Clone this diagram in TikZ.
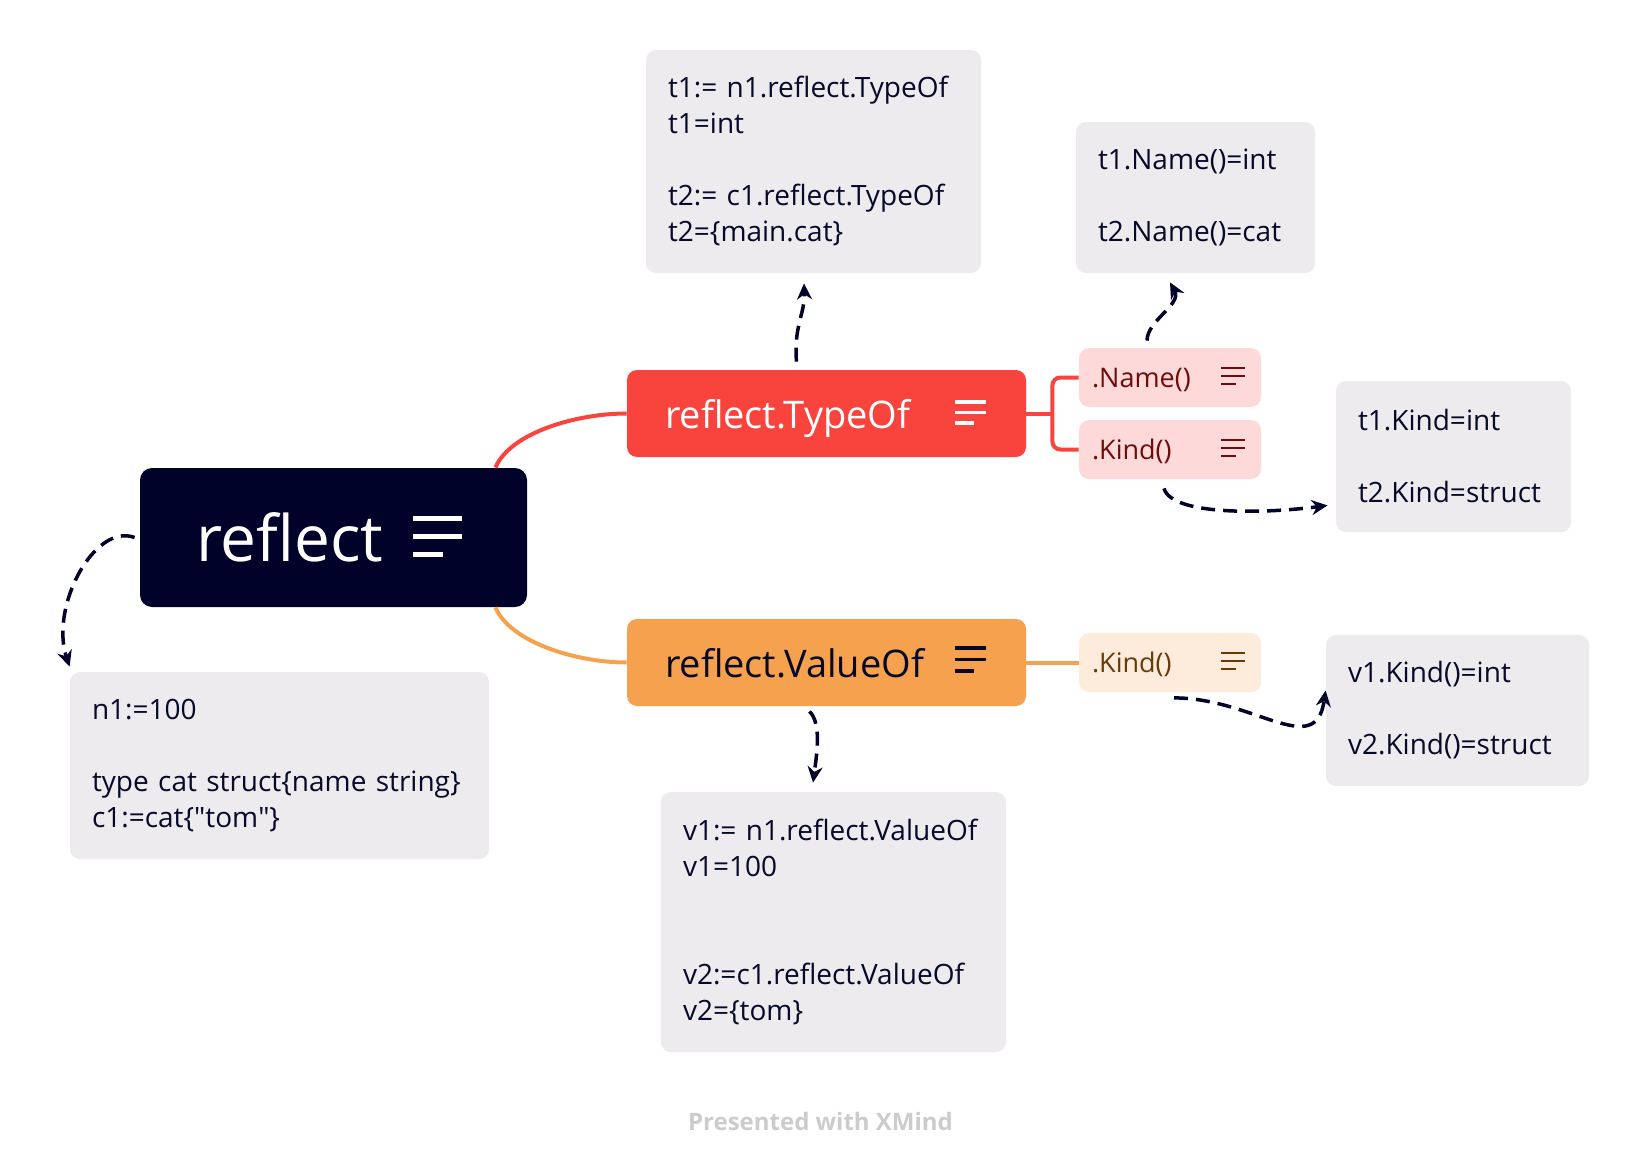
\documentclass[tikz,border=0pt]{standalone}
\usepackage{fontspec}
\setmainfont{Open Sans}
\usetikzlibrary{arrows.meta, calc, positioning}

\definecolor{rootnavy}{HTML}{000229}
\definecolor{typered}{HTML}{F9443D}
\definecolor{valueorange}{HTML}{F6A14D}
\definecolor{redsub}{HTML}{FDDAD9}
\definecolor{orangesub}{HTML}{FDEBDB}
\definecolor{redsubtext}{HTML}{6E0B0B}
\definecolor{orangesubtext}{HTML}{683A08}
\definecolor{notegray}{HTML}{EDEBEE}
\definecolor{notetext}{HTML}{060928}
\definecolor{footgray}{HTML}{CCCCCC}

% three bars of a note mark: colour, top left, length, gap, line width
\newcommand{\menulines}[5]{%
  \draw[#1, line width=#5] #2 -- ++(#3,0) ++(-#3,#4) -- ++(#3,0) ++(-#3,#4) -- ++(0.6*#3,0);
}

\begin{document}
\begin{tikzpicture}[x=0.5pt, y=-0.5pt,
    rootbox/.style={fill=rootnavy, text=white, rounded corners=6pt, minimum width=193.5pt, minimum height=69.5pt,
      inner xsep=28pt, text width=137.5pt, align=left, font=\fontsize{32}{36}\selectfont, text depth=0pt},
    headbox/.style={rounded corners=5pt, minimum width=199.5pt, minimum height=43.5pt,
      inner xsep=19pt, text width=161.5pt, align=left, font=\fontsize{19}{23}\selectfont, text depth=0pt},
    subbox/.style={rounded corners=5pt, minimum width=91pt, minimum height=29.5pt,
      inner xsep=6.5pt, text width=78pt, align=left, font=\fontsize{13.5}{16}\selectfont, text depth=0pt},
    notebox/.style={fill=notegray, text=notetext, rounded corners=5pt, inner xsep=11pt, align=left,
      font=\fontsize{14}{18}\selectfont},
    branch/.style={line width=2pt},
    notearrow/.style={draw=rootnavy, line width=1.75pt, dash pattern=on 7pt off 4pt,
      -{Stealth[length=8pt,width=7.5pt]}}
  ]
  \fill[white] (0,0) rectangle (1640,1172);
  \useasboundingbox (0,0) rectangle (1640,1172);

  % topics
  \node[rootbox] (reflect) at (333.5,537.5) {reflect};
  \node[headbox, fill=typered, text=white] (typeof) at (826.5,413.5) {reflect.TypeOf};
  \node[headbox, fill=valueorange, text=notetext] (valueof) at (826.5,662.5) {reflect.ValueOf};

  \node[subbox, fill=redsub, text=redsubtext] (namesub) at (1170,377.5) {.Name()};
  \node[subbox, fill=redsub, text=redsubtext] (kindsub) at (1170,449.5) {.Kind()};
  \node[subbox, fill=orangesub, text=orangesubtext] (okindsub) at (1170,662.5) {.Kind()};

  % notes
  \node[notebox, minimum width=167.5pt, minimum height=111.5pt, text width=145.5pt] (typeres) at (813.5,161.5)
    {t1:= n1.reflect.TypeOf\\ t1=int\\[18pt] t2:= c1.reflect.TypeOf\\ t2=\{main.cat\}};
  \node[notebox, minimum width=119.5pt, minimum height=75.5pt, text width=97.5pt] (nameres) at (1195.5,197.5)
    {t1.Name()=int\\[18pt] t2.Name()=cat};
  \node[notebox, minimum width=117.5pt, minimum height=75.5pt, text width=95.5pt] (kindres) at (1453.5,456.5)
    {t1.Kind=int\\[18pt] t2.Kind=struct};
  \node[notebox, minimum width=131.5pt, minimum height=75.5pt, text width=109.5pt] (vkindres) at (1457.5,710.5)
    {v1.Kind()=int\\[18pt] v2.Kind()=struct};
  \node[notebox, minimum width=209.5pt, minimum height=93.5pt, text width=187.5pt] (catdef) at (279.5,765.5)
    {n1:=100\\[18pt] type cat struct\{name string\}\\ c1:=cat\{\textquotedbl tom\textquotedbl\}};
  \node[notebox, minimum width=172.5pt, minimum height=130pt, text width=150.5pt] (valueres) at (833.5,922)
    {v1:= n1.reflect.ValueOf\\ v1=100\\[36pt] v2:=c1.reflect.ValueOf\\ v2=\{tom\}};

  \node[font=\bfseries\fontsize{12}{14}\selectfont, text=footgray, anchor=base] (credit) at (820.5,1130)
    {Presented with XMind};

  % branches
  \draw[branch, typered] ($(reflect.north east)+(-32,0)$) .. controls +(15,-35) and +(-50,0) .. (typeof.west);
  \draw[branch, valueorange] ($(reflect.south east)+(-32,0)$) .. controls +(15,35) and +(-50,0) .. (valueof.west);
  \draw[branch, typered] (typeof.east) -- ++(26,0) coordinate (fork);
  \draw[branch, typered, rounded corners=4pt] (namesub.west) -| (fork) |- (kindsub.west);
  \draw[branch, valueorange] (valueof.east) -- (okindsub.west);

  % note marks
  \menulines{white}{($(reflect.east)+(-114,-19.5)$)}{49}{18}{2.5pt}
  \menulines{white}{($(typeof.east)+(-71,-11.5)$)}{31}{10.5}{1.75pt}
  \menulines{notetext}{($(valueof.east)+(-71,-14.5)$)}{31}{11.5}{1.75pt}
  \menulines{redsubtext}{($(namesub.east)+(-40,-9.5)$)}{24}{8}{1.25pt}
  \menulines{redsubtext}{($(kindsub.east)+(-40,-9.5)$)}{24}{8}{1.25pt}
  \menulines{orangesubtext}{($(okindsub.east)+(-40,-9.5)$)}{24}{8}{1.25pt}

  % note arrows
  \draw[notearrow] ($(typeof.north)+(-30,-8)$) .. controls +(-3,-35) and +(1,30) .. ($(typeres.south)+(-9.5,10)$);
  \draw[notearrow] ($(namesub.north)+(-23,-7)$) .. controls +(0,-20) and +(12,22) .. ($(nameres.south)+(-25.5,9)$);
  \draw[notearrow] ($(kindsub.south)+(-6,9)$) .. controls +(8,28) and +(-60,8) .. ($(kindres.south west)+(-8,-27)$);
  \draw[notearrow] ($(okindsub.south)+(4,5.5)$) .. controls +(80,0) and +(-10,70) .. ($(vkindres.west)+(0,-20)$);
  \draw[notearrow] ($(valueof.south)+(-17,5)$) .. controls +(12,12) and +(4,-30) .. ($(valueres.north)+(-20.5,-9)$);
  \draw[notearrow] ($(reflect.west)+(-5,0)$) .. controls +(-40,-15) and +(-20,-60) .. ($(catdef.north west)+(0,-5)$);
\end{tikzpicture}
\end{document}
